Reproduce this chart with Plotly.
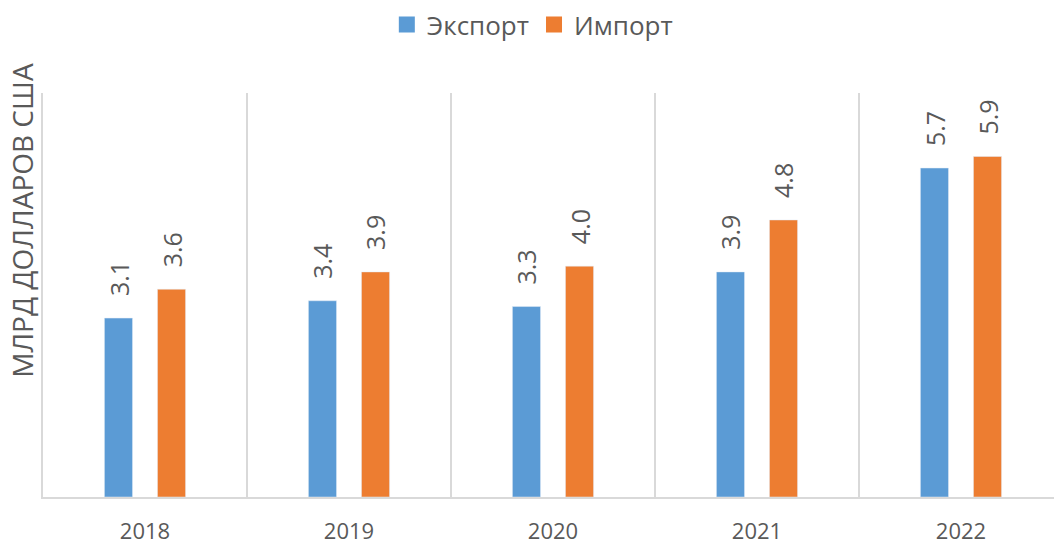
import plotly.graph_objects as go

years = ["2018", "2019", "2020", "2021", "2022"]
export_vals = [3.1, 3.4, 3.3, 3.9, 5.7]
import_vals = [3.6, 3.9, 4.0, 4.8, 5.9]
export_labels = ["3.1", "3.4", "3.3", "3.9", "5.7"]
import_labels = ["3.6", "3.9", "4.0", "4.8", "5.9"]

TEXT = "#595959"
GRID = "#D9D9D9"
BLUE = "#5B9BD5"
ORANGE = "#ED7D31"
FONT = "Open Sans"

fig = go.Figure()
fig.add_trace(go.Bar(x=years, y=export_vals, name="Экспорт", marker_color=BLUE, showlegend=False))
fig.add_trace(go.Bar(x=years, y=import_vals, name="Импорт", marker_color=ORANGE, showlegend=False))
# legend entries with larger square symbols
fig.add_trace(go.Scatter(x=[years[0]], y=[None], mode="markers", name="Экспорт",
                         marker=dict(symbol="square", size=17, color=BLUE)))
fig.add_trace(go.Scatter(x=[years[0]], y=[None], mode="markers", name="Импорт",
                         marker=dict(symbol="square", size=17, color=ORANGE)))

for vals, labels, off in ((export_vals, export_labels, -0.13), (import_vals, import_labels, 0.13)):
    for i, (v, t) in enumerate(zip(vals, labels)):
        fig.add_annotation(
            x=i + off, y=v, xref="x", yref="y", text=t, textangle=-90,
            showarrow=False, yanchor="bottom", xanchor="center", yshift=20,
            font=dict(size=25, color=TEXT, family=FONT),
        )

fig.update_layout(
    width=1054, height=544,
    margin=dict(l=43, r=0, t=93, b=47, autoexpand=False),
    paper_bgcolor="white", plot_bgcolor="white",
    barmode="group", bargap=0.48, bargroupgap=0.47,
    font=dict(family=FONT, color=TEXT, size=20),
    legend=dict(orientation="h", x=0.484, xanchor="center", y=0.998, yanchor="top",
                yref="container", font=dict(size=26, color=TEXT, family=FONT),
                itemwidth=30, traceorder="normal"),
)
fig.update_xaxes(
    type="category", range=[-0.5, 4.456], tickson="boundaries",
    showgrid=True, gridcolor=GRID, gridwidth=2,
    showline=True, linecolor=GRID, linewidth=2,
    ticks="", ticklabelstandoff=14, automargin=False,
    tickfont=dict(size=22, color=TEXT, family=FONT),
)
fig.update_yaxes(
    range=[0, 7], showgrid=False, showticklabels=False, zeroline=False,
    showline=True, linecolor=GRID, linewidth=2, automargin=False,
)
fig.add_annotation(
    text="МЛРД ДОЛЛАРОВ США", textangle=-90, showarrow=False,
    xref="paper", yref="paper", x=-0.021, xanchor="center",
    y=(544 - 220 - 47) / 404, yanchor="middle",
    font=dict(size=28, color=TEXT, family=FONT),
)

fig.write_html("out.html", config={"displayModeBar": False},
               post_script="document.body.style.margin='0';")
